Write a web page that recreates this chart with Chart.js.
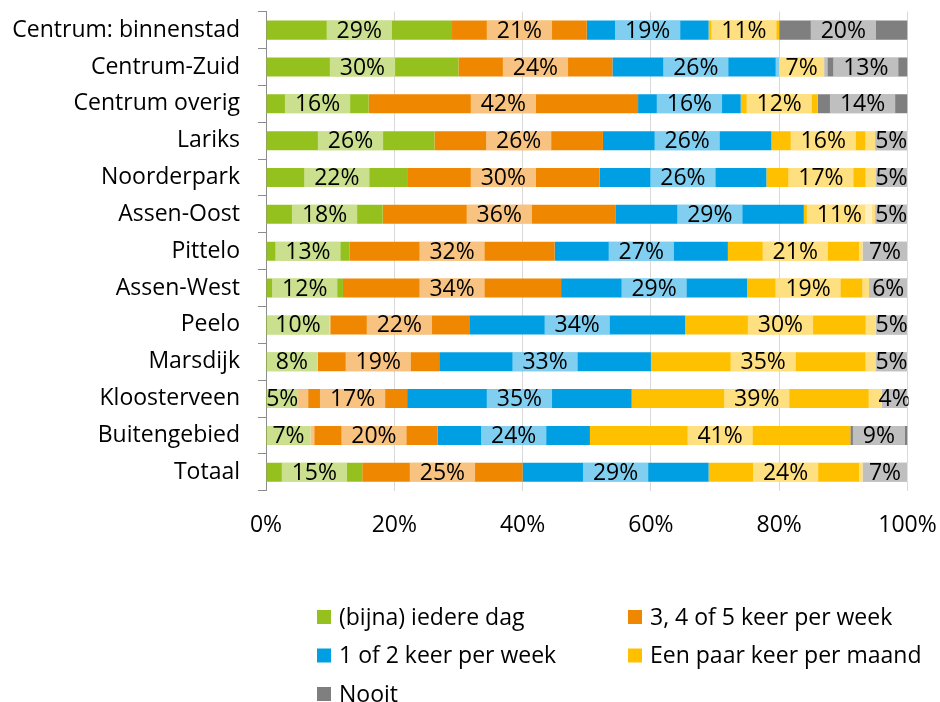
<!DOCTYPE html>
<html>
<head>
<meta charset="utf-8">
<script src="https://cdn.jsdelivr.net/npm/chart.js@4/dist/chart.umd.min.js"></script>
<style>
  html, body { margin: 0; padding: 0; background: #ffffff; }
  #wrap { width: 940px; height: 702px; position: relative; }
</style>
</head>
<body>
<div id="wrap"><canvas id="c" width="940" height="702"></canvas></div>
<script>
// ---- data ----
const categories = ['Centrum: binnenstad', 'Centrum-Zuid', 'Centrum overig', 'Lariks', 'Noorderpark',
  'Assen-Oost', 'Pittelo', 'Assen-West', 'Peelo', 'Marsdijk', 'Kloosterveen', 'Buitengebied', 'Totaal'];
const seriesNames = ['(bijna) iedere dag', '3, 4 of 5 keer per week', '1 of 2 keer per week',
  'Een paar keer per maand', 'Nooit'];
const dagelijks   = [29, 30, 16, 26, 22, 18, 13, 12, 10,  8,  5,  7, 15];
const keer345     = [21, 24, 42, 26, 30, 36, 32, 34, 22, 19, 17, 20, 25];
const keer12      = [19, 26, 16, 26, 26, 29, 27, 29, 34, 33, 35, 24, 29];
const paarPerMaand= [11,  7, 12, 16, 17, 11, 21, 19, 30, 35, 39, 41, 24];
const nooit       = [20, 13, 14,  5,  5,  5,  7,  6,  5,  5,  4,  9,  7];
const xTickValues = [0, 20, 40, 60, 80, 100];

// ---- styles ----
const seriesValues = [dagelijks, keer345, keer12, paarPerMaand, nooit];
const seriesColors = ['#95C11F', '#F08700', '#009FE3', '#FFC000', '#7F7F7F'];
const FONT = '"Open Sans", "Noto Sans", sans-serif';

// 100% stacked: normalise each category to its row total (as the spreadsheet does)
const rowTotals = categories.map((_, i) => seriesValues.reduce((s, arr) => s + arr[i], 0));

const segLabels = {
  id: 'segLabels',
  afterDatasetsDraw(chart) {
    const ctx = chart.ctx;
    const area = chart.chartArea;
    ctx.save();
    ctx.font = '23px ' + FONT;
    const items = [];
    chart.data.datasets.forEach((ds, di) => {
      const meta = chart.getDatasetMeta(di);
      meta.data.forEach((bar, i) => {
        const p = bar.getProps(['x', 'base', 'y', 'height'], true);
        items.push({ cx: (p.x + p.base) / 2, y: p.y, h: p.height, text: seriesValues[di][i] + '%' });
      });
    });
    ctx.beginPath();
    ctx.rect(area.left + 1, area.top, area.right - area.left, area.bottom - area.top);
    ctx.clip();
    ctx.fillStyle = 'rgba(255,255,255,0.5)';
    items.forEach(it => {
      const w = ctx.measureText(it.text).width + 20;
      ctx.fillRect(it.cx - w / 2, it.y - it.h / 2, w, it.h);
    });
    ctx.fillStyle = '#000000';
    ctx.textAlign = 'center';
    ctx.textBaseline = 'middle';
    items.forEach(it => ctx.fillText(it.text, it.cx, it.y + 1));
    ctx.restore();
  }
};

const gridLegend = {
  id: 'gridLegend',
  afterDraw(chart) {
    const ctx = chart.ctx;
    const colX = [317, 628];
    const rowY = [610, 648.5, 687];
    ctx.save();
    ctx.font = '23px ' + FONT;
    ctx.textAlign = 'left';
    ctx.textBaseline = 'middle';
    chart.data.datasets.forEach((ds, i) => {
      const x = colX[i % 2], y = rowY[Math.floor(i / 2)];
      ctx.fillStyle = ds.backgroundColor;
      ctx.fillRect(x, y, 14, 14);
      ctx.fillStyle = '#000000';
      ctx.fillText(ds.label, x + 22, y + 8);
    });
    ctx.restore();
  }
};

function build() {
  new Chart(document.getElementById('c'), {
    type: 'bar',
    data: {
      labels: categories,
      datasets: seriesNames.map((name, k) => ({
        label: name,
        data: seriesValues[k].map((v, i) => v / rowTotals[i] * 100),
        backgroundColor: seriesColors[k],
        borderWidth: 0,
        barPercentage: 0.516,
        categoryPercentage: 1
      }))
    },
    options: {
      indexAxis: 'y',
      responsive: false,
      animation: false,
      devicePixelRatio: 1,
      layout: { padding: { top: 11.7, right: 32.5, bottom: 0, left: 0 } },
      plugins: { legend: { display: false }, tooltip: { enabled: false } },
      scales: {
        x: {
          stacked: true,
          min: 0,
          max: 100,
          afterBuildTicks(scale) { scale.ticks = xTickValues.map(v => ({ value: v })); },
          ticks: {
            callback: v => v + '%',
            font: { family: FONT, size: 23 },
            color: '#000000',
            padding: 20.5,
            maxRotation: 0,
            autoSkip: false
          },
          grid: {
            color: c => (c.tick && c.tick.value === 0) ? 'rgba(0,0,0,0)' : '#D9D9D9',
            drawTicks: false,
            lineWidth: 1
          },
          border: { display: false },
          afterFit(s) { s.height = 702 - 490.7; s.paddingLeft = 0; s.paddingRight = 0; }
        },
        y: {
          stacked: true,
          ticks: {
            font: { family: FONT, size: 23 },
            color: '#000000',
            padding: 18,
            autoSkip: false
          },
          grid: {
            drawOnChartArea: false,
            drawTicks: true,
            tickLength: 8,
            color: '#8C8C8C',
            offset: true
          },
          border: { display: true, color: '#8C8C8C', width: 1 },
          afterFit(s) { s.width = 266; s.paddingTop = 0; s.paddingBottom = 0; }
        }
      }
    },
    plugins: [segLabels, gridLegend]
  });
}

if (document.fonts && document.fonts.load) {
  document.fonts.load('23px "Open Sans"').then(build, build);
} else {
  build();
}
</script>
</body>
</html>
